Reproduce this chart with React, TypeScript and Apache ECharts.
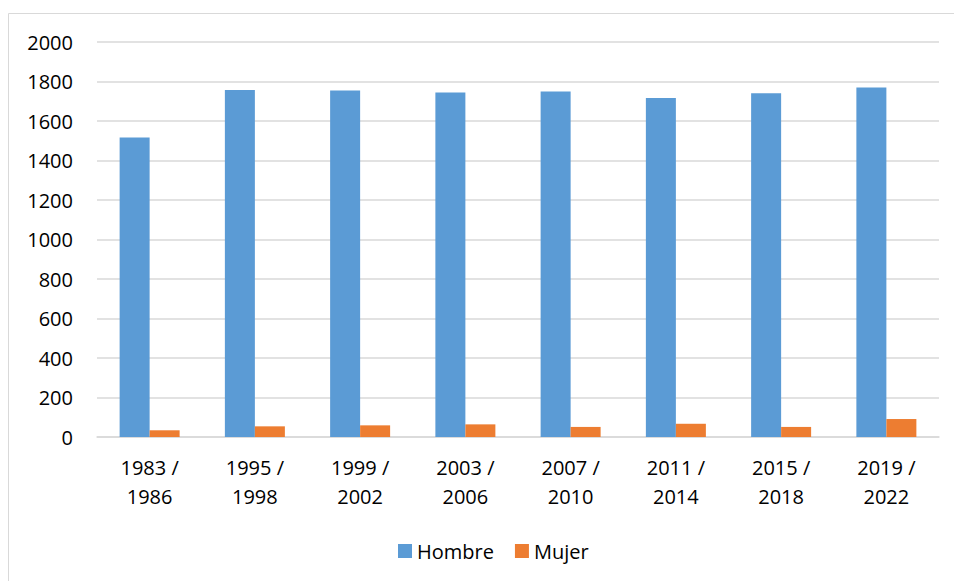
import React, { useEffect, useRef } from "react";
import * as echarts from "echarts";

const categories = [
  "1983 / 1986",
  "1995 / 1998",
  "1999 / 2002",
  "2003 / 2006",
  "2007 / 2010",
  "2011 / 2014",
  "2015 / 2018",
  "2019 / 2022",
];
const hombre = [1517, 1757, 1754, 1744, 1750, 1716, 1740, 1770];
const mujer = [34, 54, 59, 64, 51, 67, 51, 91];
const seriesNames = ["Hombre", "Mujer"];

const FONT = "'Open Sans', sans-serif";

export default function App() {
  const ref = useRef<HTMLDivElement>(null);
  useEffect(() => {
    if (!ref.current) return;
    const chart = echarts.init(ref.current, undefined, { renderer: "svg" });
    chart.setOption({
      animation: false,
      backgroundColor: "#ffffff",
      textStyle: { fontFamily: FONT },
      graphic: [
        {
          type: "rect",
          shape: { x: 8.5, y: 13.5, width: 960, height: 600 },
          style: { fill: "none", stroke: "#d9d9d9", lineWidth: 1 },
          silent: true,
        },
      ],
      grid: { left: 97, right: 15, top: 42, bottom: 144, containLabel: false },
      legend: {
        data: seriesNames,
        left: 393,
        top: 536,
        itemWidth: 14,
        itemHeight: 14,
        itemGap: 21,
        icon: "rect",
        textStyle: { fontFamily: FONT, fontSize: 20, color: "#000", lineHeight: 20 },
      },
      xAxis: {
        type: "category",
        data: categories,
        axisLine: { show: true, lineStyle: { color: "#d9d9d9", width: 1.5 } },
        axisTick: { show: false },
        axisLabel: {
          fontFamily: FONT,
          fontSize: 20,
          color: "#000",
          lineHeight: 29,
          margin: 16,
          interval: 0,
          formatter: (v: string) => v.replace(" / ", " /\n"),
        },
      },
      yAxis: {
        type: "value",
        min: 0,
        max: 2000,
        interval: 200,
        axisLine: { show: false },
        axisTick: { show: false },
        splitLine: { lineStyle: { color: "#d9d9d9", width: 1.5 } },
        axisLabel: {
          fontFamily: FONT,
          fontSize: 20,
          color: "#000",
          margin: 24,
          formatter: (v: number) => String(v),
        },
      },
      series: [
        {
          name: seriesNames[0],
          type: "bar",
          data: hombre,
          barWidth: 30,
          barGap: "0%",
          itemStyle: { color: "#5B9BD5" },
        },
        {
          name: seriesNames[1],
          type: "bar",
          data: mujer,
          barWidth: 30,
          barGap: "0%",
          itemStyle: { color: "#ED7D31" },
        },
      ],
    });
    return () => chart.dispose();
  }, []);
  return (
    <div
      ref={ref}
      style={{ position: "fixed", left: 0, top: 0, width: 954, height: 581 }}
    />
  );
}
